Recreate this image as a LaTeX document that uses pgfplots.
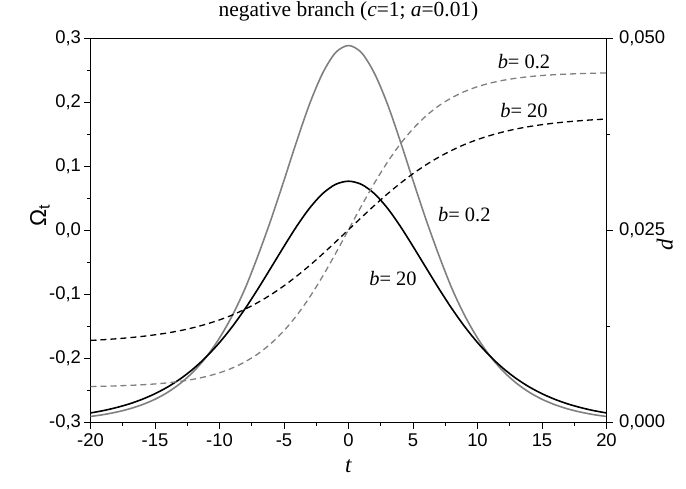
\documentclass[border=0pt]{standalone}
\usepackage{fontspec}
\setmainfont{Liberation Serif}
\newfontfamily\arial{Liberation Sans}
\usepackage{pgfplots}
\pgfplotsset{compat=1.18}
\definecolor{midgray}{RGB}{128,128,128}
\tikzset{lbl/.style={font=\fontsize{20.5}{20.5}\selectfont}}

\begin{document}
\begin{tikzpicture}
\pgfplotsset{
  every axis/.append style={
    scale only axis, width=516bp, height=384bp,
    xmin=-20, xmax=20,
    tick align=outside,
    major tick length=6bp, minor tick length=3.5bp,
    tick style={black, line width=0.8bp},
    axis line style={line width=1bp},
    ticklabel style={font=\fontsize{18.5}{18.5}\selectfont\arial},
    /pgf/number format/assume math mode=true,
    scaled y ticks=false,
  },
  solidline/.style={line width=1.6bp, smooth},
  dashline/.style={line width=1.3bp, smooth, dash pattern=on 6bp off 4bp},
}
\begin{axis}[
    name=ax,
    ymin=-0.3, ymax=0.3,
    xtick={-20,-15,-10,-5,0,5,10,15,20}, minor x tick num=1,
    ytick={-0.3,-0.2,-0.1,0,0.1,0.2,0.3}, minor y tick num=1,
    xtick pos=left, ytick pos=left,
    xticklabel style={yshift=-2bp},
    yticklabel style={/pgf/number format/use comma, /pgf/number format/fixed,
      /pgf/number format/fixed zerofill, /pgf/number format/precision=1},
    title={negative branch (\textit{c}=1; \textit{a}=0.01)},
    title style={font=\fontsize{21.5}{21.5}\selectfont, at={(axis description cs:0.5,1)}, anchor=base, yshift=16bp},
    xlabel={\textit{t}},
    xlabel style={font=\fontsize{23}{23}\selectfont, at={(axis description cs:0.5,-0.113)}, anchor=center},
    ylabel={\arial Ω\textsubscript{t}},
    ylabel style={font=\fontsize{23}{23}\selectfont, at={(axis description cs:-0.098,0.54)}, anchor=center},
]
% Omega_t, b = 0.2 (grey)
\addplot[solidline, midgray] coordinates {
(-20,-0.2906) (-19,-0.2877) (-18,-0.2838) (-17,-0.2788) (-16,-0.2722) (-15,-0.2637)
(-14,-0.2526) (-13,-0.2383) (-12,-0.2201) (-11,-0.1970) (-10,-0.1680) (-9,-0.1326)
(-8,-0.0898) (-7,-0.0384) (-6,0.0176) (-5,0.0783) (-4,0.1405) (-3,0.1986)
(-2,0.2460) (-1,0.2780) (0,0.2890) (1,0.2780) (2,0.2460) (3,0.1986)
(4,0.1405) (5,0.0783) (6,0.0176) (7,-0.0384) (8,-0.0898) (9,-0.1326)
(10,-0.1680) (11,-0.1970) (12,-0.2201) (13,-0.2383) (14,-0.2526) (15,-0.2637)
(16,-0.2722) (17,-0.2788) (18,-0.2838) (19,-0.2877) (20,-0.2906)
};
% Omega_t, b = 20 (black)
\addplot[solidline, black] coordinates {
(-20,-0.2851) (-19,-0.2814) (-18,-0.2767) (-17,-0.2710) (-16,-0.2638) (-15,-0.2550)
(-14,-0.2443) (-13,-0.2313) (-12,-0.2156) (-11,-0.1969) (-10,-0.1751) (-9,-0.1500)
(-8,-0.1217) (-7,-0.0906) (-6,-0.0578) (-5,-0.0248) (-4,0.0071) (-3,0.0354)
(-2,0.0577) (-1,0.0721) (0,0.0770) (1,0.0721) (2,0.0577) (3,0.0354)
(4,0.0071) (5,-0.0248) (6,-0.0578) (7,-0.0906) (8,-0.1217) (9,-0.1500)
(10,-0.1751) (11,-0.1969) (12,-0.2156) (13,-0.2313) (14,-0.2443) (15,-0.2550)
(16,-0.2638) (17,-0.2710) (18,-0.2767) (19,-0.2814) (20,-0.2851)
};
\node[lbl] at (axis cs:13.6,0.2637) {\textit{b}= 0.2};
\node[lbl] at (axis cs:13.6,0.188) {\textit{b}= 20};
\node[lbl] at (axis cs:8.98,0.0242) {\textit{b}= 0.2};
\node[lbl] at (axis cs:3.45,-0.0747) {\textit{b}= 20};
\end{axis}

\begin{axis}[
    ymin=0, ymax=0.05,
    axis x line=none, axis y line*=right,
    ytick={0,0.025,0.05}, minor y tick num=1,
    yticklabel style={xshift=3bp, /pgf/number format/use comma, /pgf/number format/fixed,
      /pgf/number format/fixed zerofill, /pgf/number format/precision=3},
    ylabel={\textit{d}},
    ylabel style={font=\fontsize{23}{23}\selectfont, at={(axis description cs:1.113,0.462)}, anchor=center},
]
% d, b = 0.2 (grey dashed)
\addplot[dashline, midgray] coordinates {
(-20,0.00469) (-19,0.00472) (-18,0.00477) (-17,0.00483) (-16,0.00491) (-15,0.00502)
(-14,0.00517) (-13,0.00537) (-12,0.00564) (-11,0.00600) (-10,0.00647) (-9,0.00710)
(-8,0.00792) (-7,0.00896) (-6,0.01030) (-5,0.01196) (-4,0.01397) (-3,0.01635)
(-2,0.01905) (-1,0.02201) (0,0.02510) (1,0.02819) (2,0.03115) (3,0.03385)
(4,0.03623) (5,0.03824) (6,0.03990) (7,0.04124) (8,0.04228) (9,0.04310)
(10,0.04373) (11,0.04420) (12,0.04456) (13,0.04483) (14,0.04503) (15,0.04518)
(16,0.04529) (17,0.04537) (18,0.04543) (19,0.04548) (20,0.04551)
};
% d, b = 20 (black dashed)
\addplot[dashline, black] coordinates {
(-20,0.01069) (-19,0.01078) (-18,0.01090) (-17,0.01104) (-16,0.01121) (-15,0.01142)
(-14,0.01167) (-13,0.01198) (-12,0.01236) (-11,0.01282) (-10,0.01336) (-9,0.01400)
(-8,0.01477) (-7,0.01565) (-6,0.01666) (-5,0.01780) (-4,0.01908) (-3,0.02046)
(-2,0.02195) (-1,0.02351) (0,0.02510) (1,0.02669) (2,0.02825) (3,0.02974)
(4,0.03112) (5,0.03240) (6,0.03354) (7,0.03455) (8,0.03543) (9,0.03620)
(10,0.03684) (11,0.03738) (12,0.03784) (13,0.03822) (14,0.03853) (15,0.03878)
(16,0.03899) (17,0.03916) (18,0.03930) (19,0.03942) (20,0.03951)
};
\end{axis}
\pgfresetboundingbox
\path[use as bounding box] ([shift={(-90.5bp,-66.5bp)}]ax.south west) rectangle ([shift={(79.5bp,38.5bp)}]ax.north east);
\end{tikzpicture}
\end{document}
